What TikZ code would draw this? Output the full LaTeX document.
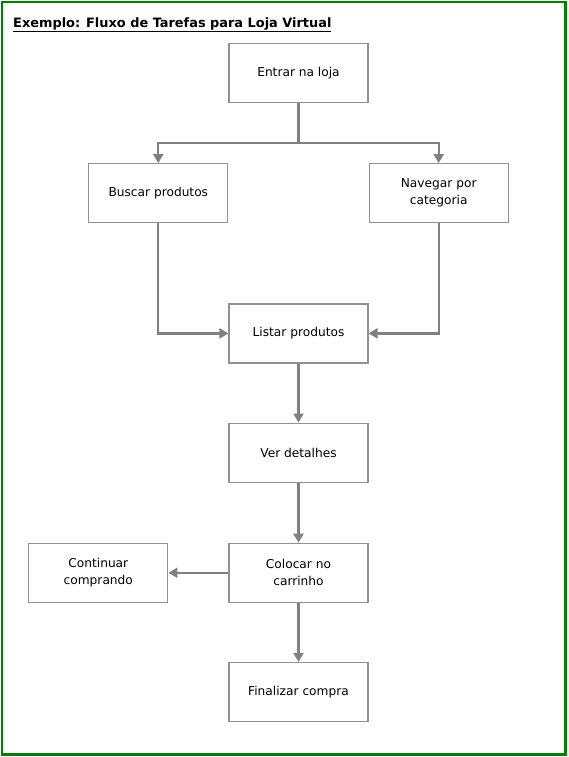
\documentclass[tikz,border=0pt]{standalone}
\usepackage{fontspec}
\setmainfont{DejaVu Sans}
\usetikzlibrary{arrows.meta,positioning}

\definecolor{framegreen}{RGB}{0,128,0}
\definecolor{linegray}{RGB}{128,128,128}
\definecolor{boxgray}{RGB}{145,145,145}

\begin{document}
\begin{tikzpicture}[x=1pt,y=1pt,->,>={Triangle[length=9pt,width=10pt]},node distance=60pt,
    task/.style={draw=boxgray,line width=1.2pt,fill=white,minimum width=139pt,minimum height=59pt,
      align=center,font=\fontsize{12.2}{17}\selectfont},
    flow/.style={draw=linegray,line width=2.2pt}]
      \useasboundingbox (0,0) rectangle (568,-757);
      \draw[-,framegreen,line width=2.5pt] (2,-2) rectangle (565.5,-754.5);
      \node[anchor=base west,inner sep=0pt,font=\bfseries\fontsize{12.9}{15}\selectfont] (title) at (13,-27.5) {\underline{Exemplo: Fluxo de Tarefas para Loja Virtual}};
      \node[task] (entrar) at (298.5,-73) {Entrar na loja};
      \node[task] (buscar) [below left=60pt and 0pt of entrar] {Buscar produtos};
      \node[task] (navegar) [below right=60pt and 0pt of entrar] {Navegar por\\categoria};
      \node[task] (listar) [below right=80pt and 0pt of buscar] {Listar produtos};
      \node[task] (ver) [below=59pt of listar] {Ver detalhes};
      \node[task] (colocar) [below=60pt of ver] {Colocar no\\carrinho};
      \node[task] (finalizar) [below=59pt of colocar] {Finalizar compra};
      \node[task] (continuar) [left=60pt of colocar] {Continuar\\comprando};
      \coordinate[below=40pt of entrar.south] (split);
      \draw[flow,-] (entrar) -- (split);
      \draw[flow] (split) -| (buscar);
      \draw[flow] (split) -| (navegar);
      \draw[flow] (buscar) |- (listar);
      \draw[flow] (navegar) |- (listar);
      \draw[flow] (listar) -- (ver);
      \draw[flow] (ver) -- (colocar);
      \draw[flow] (colocar) -- (continuar);
      \draw[flow] (colocar) -- (finalizar);
    \end{tikzpicture}
\end{document}
